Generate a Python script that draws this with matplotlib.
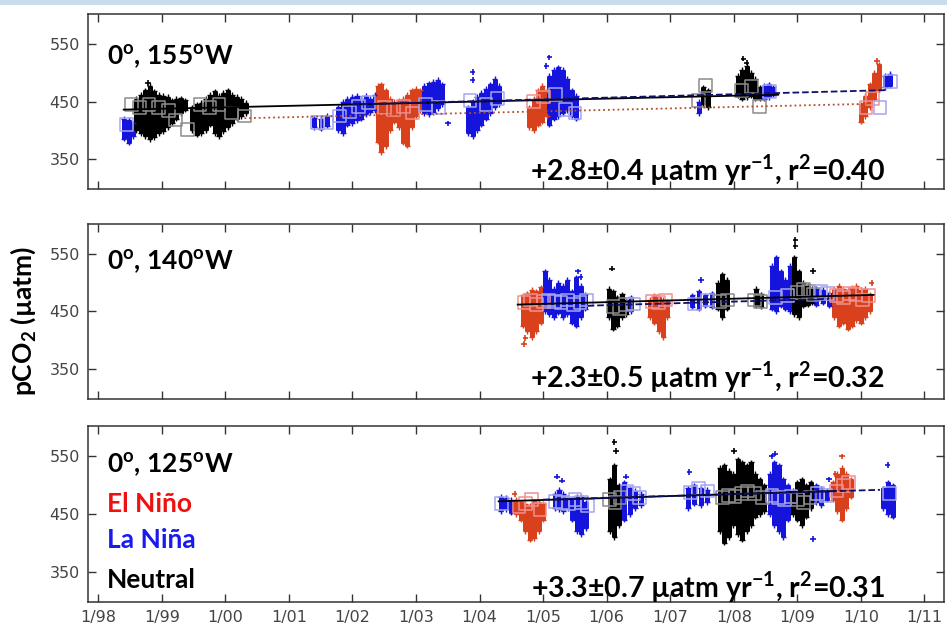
import matplotlib
matplotlib.use("Agg")
from matplotlib import pyplot as plt
from matplotlib.patches import Rectangle

# Fonts -------------------------------------------------------------------
plt.rcParams['font.family'] = ['Lato', 'DejaVu Sans']
plt.rcParams['mathtext.fontset'] = 'custom'
plt.rcParams['mathtext.rm'] = 'Lato'
plt.rcParams['mathtext.bf'] = 'Lato:bold'

# Data --------------------------------------------------------------------
# E = El Nino, L = La Nina, N = Neutral
# each entry is the vertical spread of the daily pCO2 points at that time

# 0N 155W
w155_t = [1998.40, 1998.48, 1998.55,
          1998.60, 1998.67, 1998.74, 1998.81, 1998.88, 1998.95, 1999.02, 1999.09, 1999.16,
          1999.23, 1999.30, 1999.37, 1999.48, 1999.55, 1999.62, 1999.69, 1999.76, 1999.83,
          1999.90, 1999.97, 2000.04, 2000.11, 2000.18, 2000.25, 2000.32,
          2001.40, 2001.50, 2001.60, 2001.78, 2001.85, 2001.92, 2002.00, 2002.07, 2002.14,
          2002.21, 2002.28, 2002.35,
          2002.40, 2002.45, 2002.52, 2002.59, 2002.66, 2002.73, 2002.80, 2002.86, 2002.93,
          2003.00, 2003.07,
          2003.13, 2003.20, 2003.27, 2003.34, 2003.41,
          2003.82, 2003.89, 2003.96, 2004.03, 2004.10, 2004.17, 2004.24, 2004.30,
          2004.78, 2004.85, 2004.92, 2004.99, 2005.06,
          2005.10, 2005.17, 2005.24, 2005.31, 2005.38, 2005.45, 2005.52,
          2007.45, 2007.52, 2007.60,
          2008.06, 2008.13, 2008.20, 2008.27, 2008.34, 2008.41,
          2008.48, 2008.55, 2008.62,
          2010.00, 2010.07, 2010.14, 2010.21, 2010.28,
          2010.38, 2010.45]
w155_lo = [385, 378, 390,
           400, 395, 390, 384, 388, 395, 398, 405, 412,
           420, 430, 436, 400, 392, 395, 400, 410, 395,
           390, 398, 405, 412, 420, 425, 430,
           405, 403, 408, 400, 395, 410, 412, 418, 420,
           428, 432, 435,
           380, 362, 372, 400, 415, 405, 378, 373, 405,
           425, 435,
           430, 428, 432, 438, 445,
           395, 390, 400, 410, 420, 430, 440, 445,
           405, 400, 410, 415, 425,
           410, 420, 425, 430, 435, 425, 420,
           430, 445, 440,
           460, 455, 458, 460, 455, 455,
           455, 458, 462,
           415, 425, 440, 455, 470,
           475, 478]
w155_hi = [420, 418, 412,
           455, 462, 470, 478, 468, 462, 460, 458, 452,
           455, 456, 452, 440, 445, 448, 455, 462, 468,
           460, 465, 470, 462, 458, 455, 448,
           422, 420, 425, 440, 450, 455, 458, 460, 455,
           460, 455, 462,
           478, 480, 470, 455, 450, 452, 455, 462, 470,
           472, 470,
           478, 482, 485, 488, 480,
           440, 450, 458, 465, 472, 480, 490, 478,
           440, 455, 470, 478, 470,
           495, 505, 510, 505, 490, 470, 460,
           450, 475, 470,
           495, 505, 512, 500, 490, 475,
           478, 480, 475,
           445, 460, 480, 500, 515,
           495, 498]
w155_ph = ("LLL"
           "NNNNNNNNNNNNNNNNNNNNNNNNN"
           "LLLLLLLLLLLL"
           "EEEEEEEEEEE"
           "LLLLL"
           "LLLLLLLL"
           "EEEEE"
           "LLLLLLL"
           "LNN"
           "NNNNNN"
           "LLL"
           "EEEEE"
           "LL")
# stray points
w155_pt = [1998.78, 2003.89, 2003.89, 2003.50, 2005.10, 2005.05, 2008.15, 2008.20, 2010.25]
w155_pv = [482, 502, 488, 412, 527, 512, 525, 518, 521]
w155_pph = "NLLLLLNNE"
# monthly means
w155_mt = [1998.45, 1998.52, 1998.65, 1998.80, 1998.95, 1999.10, 1999.22, 1999.40, 1999.60,
           1999.75, 1999.90, 2000.10, 2000.30,
           2001.45, 2001.60, 2001.80, 2001.95, 2002.10, 2002.25,
           2002.50, 2002.65, 2002.80, 2002.95,
           2003.15, 2003.35, 2003.85, 2004.10, 2004.28,
           2004.85, 2005.00, 2005.20, 2005.35, 2005.50,
           2007.45, 2007.55, 2008.12, 2008.28, 2008.40, 2008.56,
           2010.08, 2010.18, 2010.30, 2010.46]
w155_mv = [410, 445, 440, 445, 440, 435, 418, 402, 445,
           440, 445, 430, 425,
           413, 413, 425, 432, 442, 448,
           440, 436, 442, 430,
           445, 440, 452, 445, 455,
           450, 458, 462, 436, 430,
           452, 478, 470, 476, 441, 468,
           440, 455, 440, 485]
w155_mph = ("LNNNNNNNNNNNN"
            "LLLLLL"
            "EEEE"
            "LLLLL"
            "EELLL"
            "NNNNNL"
            "EELL")
# trend lines (solid, dashed, dotted)
w155_tr_t = [[1998.4, 2008.7], [2002.0, 2010.4], [2000.3, 2010.1]]
w155_tr_v = [[436, 462], [445, 470], [421, 446]]

# 0N 140W
w140_t = [2004.68, 2004.75, 2004.82, 2004.89, 2004.96,
          2005.03, 2005.10, 2005.17, 2005.24, 2005.31, 2005.38, 2005.45, 2005.52, 2005.59, 2005.66,
          2006.03, 2006.10, 2006.17, 2006.24, 2006.31,
          2006.38,
          2006.68, 2006.75, 2006.82, 2006.89, 2006.95,
          2007.35, 2007.45, 2007.55, 2007.65,
          2007.75, 2007.82, 2007.89,
          2008.35, 2008.43,
          2008.60, 2008.67, 2008.74, 2008.81, 2008.88,
          2008.95, 2009.02, 2009.09, 2009.16, 2009.23,
          2009.30, 2009.40, 2009.50,
          2009.58, 2009.65, 2009.72, 2009.79, 2009.86, 2009.93, 2010.00, 2010.07, 2010.14]
w140_lo = [425, 415, 405, 415, 430,
           450, 445, 440, 448, 440, 445, 430, 425, 440, 455,
           440, 420, 425, 440, 445,
           450,
           440, 430, 415, 405, 440,
           458, 455, 460, 458,
           455, 440, 455,
           460, 458,
           455, 450, 460, 455, 450,
           445, 440, 460, 462, 465,
           462, 465, 460,
           440, 425, 430, 420, 425, 435, 430, 440, 450]
w140_hi = [478, 482, 488, 485, 492,
           520, 505, 490, 500, 495, 505, 485, 510, 495, 480,
           490, 485, 475, 480, 470,
           475,
           470, 478, 475, 470, 468,
           478, 485, 478, 482,
           500, 515, 505,
           490, 480,
           530, 545, 520, 505, 530,
           545, 520, 500, 495, 490,
           490, 488, 482,
           490, 495, 490, 488, 492, 495, 488, 490, 480]
w140_ph = ("EEEEE"
           "LLLLLLLLLL"
           "NNNNN"
           "L"
           "EEEEE"
           "LLLL"
           "NNN"
           "NN"
           "LLLLL"
           "NNNNN"
           "LLL"
           "EEEEEEEEE")
w140_pt = [2004.72, 2004.70, 2006.08, 2008.97, 2008.97, 2009.25, 2010.17, 2007.48, 2005.55, 2005.59]
w140_pv = [403, 393, 525, 575, 565, 521, 500, 505, 520, 510]
w140_pph = "EENNNNELLL"
w140_mt = [2004.70, 2004.80, 2004.90, 2005.00,
           2005.08, 2005.18, 2005.28, 2005.38, 2005.48, 2005.58, 2005.68,
           2006.10, 2006.20, 2006.30, 2006.42,
           2006.72, 2006.82, 2006.92,
           2007.38, 2007.58, 2007.78, 2007.90,
           2008.32, 2008.42, 2008.65, 2008.85,
           2009.00, 2009.10, 2009.18, 2009.26, 2009.36, 2009.48,
           2009.62, 2009.72, 2009.82, 2009.92, 2010.02, 2010.12]
w140_mv = [465, 470, 462, 468,
           470, 468, 465, 470, 462, 465, 470,
           458, 455, 462, 463,
           468, 466, 470,
           463, 470, 468, 470,
           470, 468, 475, 478,
           483, 488, 485, 480, 485, 482,
           478, 475, 482, 480, 470, 478]
w140_mph = ("EEEE"
            "LLLLLLL"
            "NNNL"
            "EEE"
            "LLNN"
            "NNLL"
            "NNNNLL"
            "EEEEEE")
w140_tr_t = [[2004.6, 2010.2], [2005.7, 2009.5]]
w140_tr_v = [[462, 479], [460, 472]]

# 0N 125W
w125_t = [2004.33, 2004.42, 2004.50,
          2004.58, 2004.65, 2004.72, 2004.79, 2004.86, 2004.93, 2005.00,
          2005.18, 2005.25, 2005.32, 2005.39, 2005.46, 2005.53, 2005.60, 2005.67,
          2006.05, 2006.12, 2006.19,
          2006.28, 2006.36, 2006.45, 2006.54,
          2007.28, 2007.38, 2007.48, 2007.58,
          2007.78, 2007.85, 2007.92, 2007.99, 2008.06, 2008.13, 2008.20, 2008.27, 2008.34,
          2008.41, 2008.48,
          2008.57, 2008.64, 2008.71, 2008.78, 2008.85,
          2008.93, 2009.00, 2009.07, 2009.14, 2009.21,
          2009.30, 2009.38, 2009.46,
          2009.56, 2009.63, 2009.70, 2009.77, 2009.84,
          2010.35, 2010.42, 2010.50]
w125_lo = [455, 458, 452,
           450, 440, 420, 405, 408, 420, 440,
           460, 458, 455, 460, 440, 420, 415, 425,
           420, 410, 430,
           440, 450, 460, 465,
           460, 468, 465, 470,
           420, 400, 410, 430, 415, 405, 420, 430, 445,
           450, 455,
           450, 430, 420, 410, 440,
           450, 440, 430, 445, 460,
           470, 465, 475,
           475, 455, 440, 460, 480,
           460, 450, 445]
w125_hi = [480, 478, 475,
           475, 470, 468, 465, 472, 470, 468,
           485, 492, 485, 478, 475, 480, 480, 470,
           510, 535, 500,
           505, 495, 490, 485,
           495, 500, 495, 492,
           530, 535, 525, 520, 545, 540, 535, 540, 520,
           510, 500,
           520, 540, 535, 510, 500,
           490, 505, 510, 500, 505,
           500, 495, 490,
           505, 520, 530, 520, 510,
           495, 505, 500]
w125_ph = ("LLL"
           "EEEEEEE"
           "LLLLLLLL"
           "NNN"
           "LLLL"
           "LLLL"
           "NNNNNNNNNNN"
           "LLLLL"
           "NNNNN"
           "LLL"
           "EEEEE"
           "LLL")
w125_pt = [2004.55, 2005.22, 2005.30, 2006.12, 2006.15, 2006.30, 2007.30, 2008.00,
           2008.60, 2008.65, 2009.50, 2009.25, 2009.70, 2009.60, 2010.42]
w125_pv = [485, 515, 508, 575, 560, 515, 523, 560,
           550, 555, 510, 407, 550, 520, 535]
w125_pph = "ELLNNLLNLLLLEEL"
w125_mt = [2004.35, 2004.62, 2004.72, 2004.82, 2004.95,
           2005.20, 2005.30, 2005.40, 2005.50, 2005.60, 2005.70,
           2006.05, 2006.13, 2006.21, 2006.32, 2006.42, 2006.52,
           2007.32, 2007.45, 2007.58,
           2007.82, 2007.92, 2008.02, 2008.12, 2008.22, 2008.32, 2008.45,
           2008.60, 2008.70, 2008.80, 2008.90,
           2009.00, 2009.10, 2009.20, 2009.32, 2009.45,
           2009.62, 2009.72, 2009.80, 2010.45]
w125_mv = [468, 462, 468, 475, 458,
           472, 470, 468, 475, 470, 465,
           475, 470, 478, 490, 485, 478,
           488, 495, 490,
           478, 482, 480, 485, 490, 485, 478,
           482, 478, 475, 480,
           475, 470, 478, 485, 482,
           490, 500, 505, 485]
w125_mph = ("LEEEE"
            "LLLLLL"
            "NNNLLL"
            "LLL"
            "NNNNNNN"
            "LLLL"
            "NNNLL"
            "EEEL")
w125_tr_t = [[2004.3, 2009.6], [2005.0, 2010.3]]
w125_tr_v = [[472, 490], [475, 492]]

panel_names = ['0$^{\\mathbf{o}}$, 155$^{\\mathbf{o}}$W',
               '0$^{\\mathbf{o}}$, 140$^{\\mathbf{o}}$W',
               '0$^{\\mathbf{o}}$, 125$^{\\mathbf{o}}$W']
trend_text = ['+2.8\u00b10.4 \u00b5atm yr$^{\\mathbf{-1}}$, r$^{\\mathbf{2}}$=0.40',
              '+2.3\u00b10.5 \u00b5atm yr$^{\\mathbf{-1}}$, r$^{\\mathbf{2}}$=0.32',
              '+3.3\u00b10.7 \u00b5atm yr$^{\\mathbf{-1}}$, r$^{\\mathbf{2}}$=0.31']
year_ticks = list(range(1998, 2012))
year_labels = ['1/98', '1/99', '1/00', '1/01', '1/02', '1/03', '1/04',
               '1/05', '1/06', '1/07', '1/08', '1/09', '1/10', '1/11']

# Colours -----------------------------------------------------------------
dot_col = {'E': '#d9401c', 'L': '#1414dc', 'N': '#000000'}
box_col = {'E': '#f29090', 'L': '#a4a4f0', 'N': '#8c8c8c'}
trend_style = ['-', '--', ':']
trend_col = ['#000000', '#10106a', '#b0502a']

# Figure ------------------------------------------------------------------
fig = plt.figure(figsize=(9.47, 6.33), dpi=100)
fig.patches.append(Rectangle((0, 0.992), 1, 0.008, transform=fig.transFigure,
                             facecolor='#c9dcec', edgecolor='none'))

panel_pos = [[0.093, 0.701, 0.904, 0.277],
             [0.093, 0.370, 0.904, 0.276],
             [0.093, 0.049, 0.904, 0.278]]

panels = [
    (w155_t, w155_lo, w155_hi, w155_ph, w155_pt, w155_pv, w155_pph,
     w155_mt, w155_mv, w155_mph, w155_tr_t, w155_tr_v),
    (w140_t, w140_lo, w140_hi, w140_ph, w140_pt, w140_pv, w140_pph,
     w140_mt, w140_mv, w140_mph, w140_tr_t, w140_tr_v),
    (w125_t, w125_lo, w125_hi, w125_ph, w125_pt, w125_pv, w125_pph,
     w125_mt, w125_mv, w125_mph, w125_tr_t, w125_tr_v),
]

name_y = [0.709, 0.737, 0.733]
note_y = [0.051, 0.063, 0.023]

for i, (t, lo, hi, ph, pt, pv, pph, mt, mv, mph, tr_t, tr_v) in enumerate(panels):
    ax = fig.add_axes(panel_pos[i])

    #spread of daily points
    cols = [dot_col[p] for p in ph]
    ax.vlines(t, lo, hi, colors=cols, lw=3.6, zorder=2)
    ax.scatter(t, hi, marker='+', c=cols, s=14, lw=1, zorder=2)
    ax.scatter(t, lo, marker='+', c=cols, s=14, lw=1, zorder=2)
    ax.scatter(pt, pv, marker='+', c=[dot_col[p] for p in pph], s=16, lw=1.2, zorder=2)

    #monthly means
    ax.scatter(mt, mv, marker='s', facecolors='none',
               edgecolors=[box_col[p] for p in mph], s=85, lw=1.1, zorder=3)

    #trend lines
    for k in range(len(tr_t)):
        ax.plot(tr_t[k], tr_v[k], ls=trend_style[k], color=trend_col[k], lw=1.3, zorder=4)

    ax.set_xlim(1997.84, 2011.31)
    ax.set_ylim(297, 603)
    ax.set_yticks([350, 450, 550])
    ax.set_xticks(year_ticks)
    ax.set_xticklabels(year_labels)
    ax.tick_params(direction='in', top=True, right=True, length=6, width=1,
                   color='#333333', labelcolor='#444444', labelsize=11.5, pad=6)
    if i < 2:
        ax.tick_params(labelbottom=False)
    for lab in ax.get_xticklabels() + ax.get_yticklabels():
        lab.set_fontfamily('DejaVu Sans')
    for s in ax.spines.values():
        s.set_color('#333333')
        s.set_linewidth(1.1)

    ax.text(0.022, name_y[i], panel_names[i], transform=ax.transAxes,
            fontsize=19, fontweight='bold', va='baseline', ha='left')
    ax.text(0.931, note_y[i], trend_text[i], transform=ax.transAxes,
            fontsize=20.5, fontweight='bold', va='baseline', ha='right', zorder=6)

    if i == 2:
        ax.text(0.022, 0.511, 'El Niño', transform=ax.transAxes, color='#f01010',
                fontsize=19, fontweight='bold', va='baseline')
        ax.text(0.022, 0.307, 'La Niña', transform=ax.transAxes, color='#1a1af0',
                fontsize=19, fontweight='bold', va='baseline')
        ax.text(0.022, 0.080, 'Neutral', transform=ax.transAxes, color='black',
                fontsize=19, fontweight='bold', va='baseline')

fig.text(0.024, 0.493, 'pCO$_{\\mathbf{2}}$ (\u00b5atm)', rotation=90, fontsize=19,
         fontweight='bold', ha='center', va='center')

fig.savefig('out.png', dpi=100)
